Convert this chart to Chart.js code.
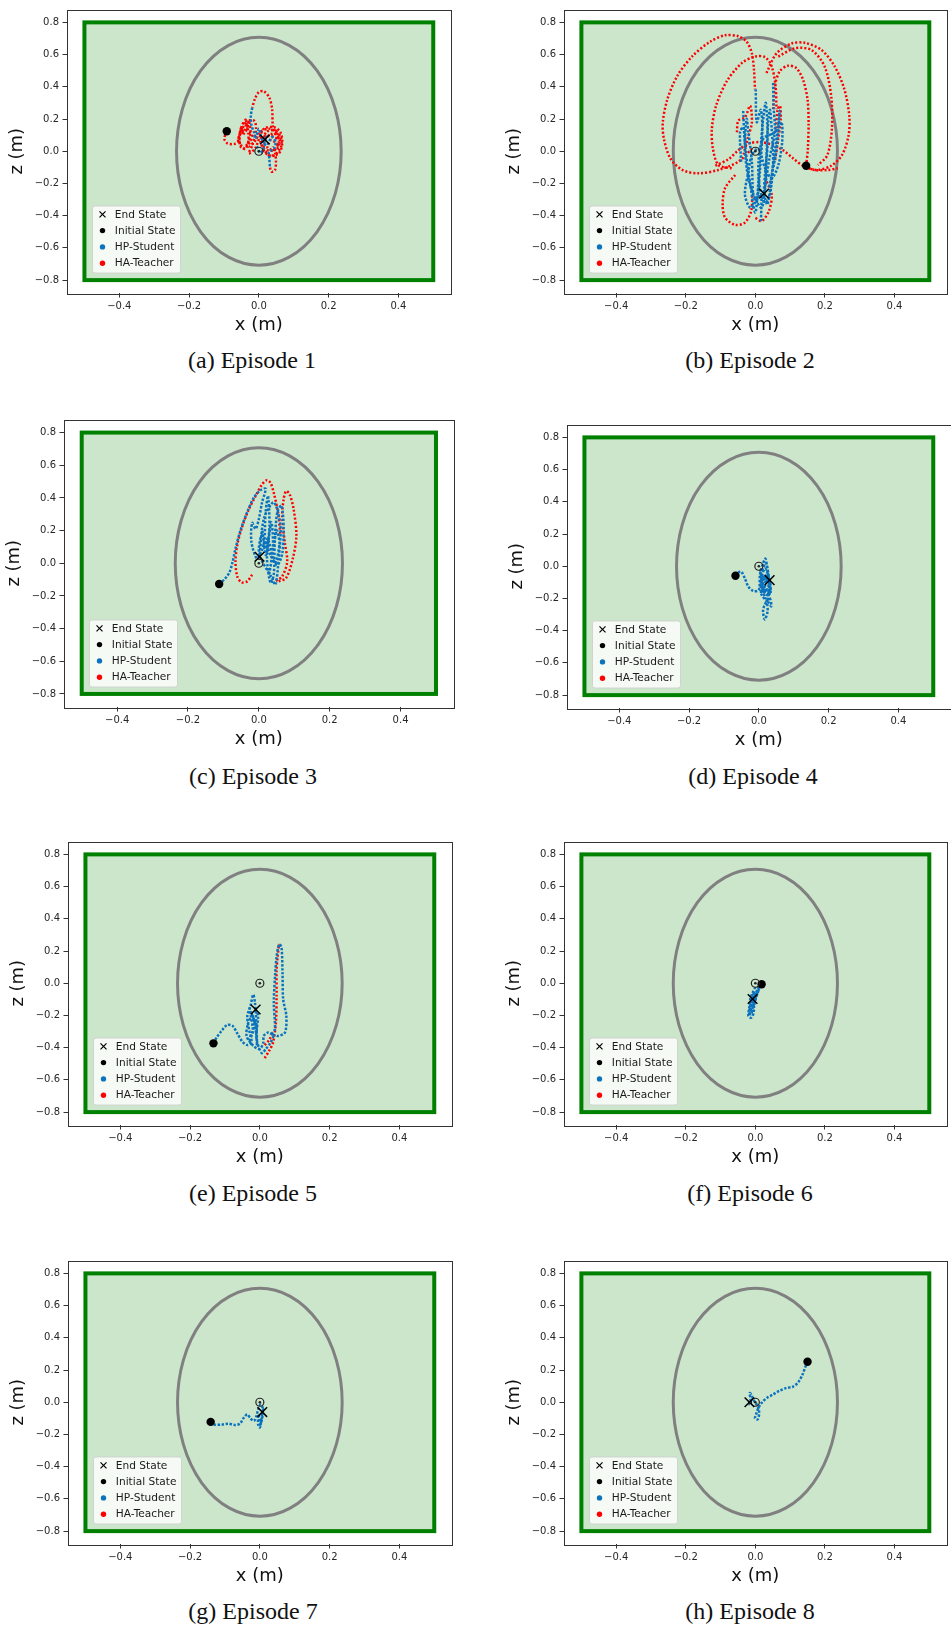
<!DOCTYPE html>
<html>
<head>
<meta charset="utf-8">
<script src="https://cdn.jsdelivr.net/npm/chart.js@4.4.1/dist/chart.umd.min.js"></script>
<style>
  html, body { margin: 0; padding: 0; background: #fff; overflow: hidden; }
  #page { position: relative; width: 951px; height: 1627px; overflow: hidden; }
  #page canvas { position: absolute; }
  .cap {
    position: absolute; transform: translate(-50%, -50%); white-space: nowrap;
    font-family: "Liberation Serif", "Times New Roman", serif; font-size: 24px; color: #111;
  }
</style>
</head>
<body>
<div id="page"></div>
<script>
// axes
const X_TICKS = [-0.4, -0.2, 0.0, 0.2, 0.4]
const Z_TICKS = [-0.8, -0.6, -0.4, -0.2, 0.0, 0.2, 0.4, 0.6, 0.8]
const X_LIMITS = [-0.55, 0.55]
const Z_LIMITS = [-0.88, 0.88]
// safety envelope: box [xmin, xmax, zmin, zmax] and ellipse semi-axes [x, z]
const SAFE_BOX = [-0.5, 0.5, -0.8, 0.8]
const SAFE_ELLIPSE = [0.236, 0.707]
const TARGET = [0, 0]
const LEGEND_LABELS = ["End State", "Initial State", "HP-Student", "HA-Teacher"]
const CAPTIONS = ["(a) Episode 1", "(b) Episode 2", "(c) Episode 3", "(d) Episode 4",
                  "(e) Episode 5", "(f) Episode 6", "(g) Episode 7", "(h) Episode 8"]

// episode 1
const EP1_INIT = [-0.092, 0.124]
const EP1_END = [0.017, 0.073]
const EP1_STUDENT = [
  [[-0.019,0.271],[-0.023,0.220],[-0.021,0.159],[-0.014,0.118],[-0.010,0.078],[0,0.139],[0.010,0.067],[0.024,0.047],[0.038,0.088],[0.048,0.057],[0.043,0.016],[0.029,-0.004],[0.030,-0.045],[0.032,-0.102]],
  [[-0.006,0.030],[0.004,-0.010],[0.014,0.020],[0.022,0.090],[0.017,0.073]]
]
const EP1_TEACHER = [
  [[-0.092,0.124],[-0.099,0.078],[-0.090,0.049],[-0.071,0.045],[-0.059,0.057],[-0.052,0.118],[-0.043,0.159],[-0.038,0.196],[-0.032,0.139],[-0.029,0.190],[-0.024,0.118],[-0.038,0.016],[-0.052,0.027],[-0.055,0.098],[-0.043,0.180],[-0.014,0.190],[-0.008,0.139],[-0.019,0.037],[-0.029,-0.014],[-0.011,0.016],[0.014,0.139],[0.043,0.149],[0.062,0.118],[0.067,0.047],[0.057,-0.014],[0.029,-0.024],[0.010,0.037],[0.021,0.118],[0.048,0.129],[0.057,0.057],[0.043,0.006],[0.014,0.016],[0.005,0.078],[0.029,0.098],[0.052,0.078]],
  [[0.052,0.078],[0.045,0.120],[0.040,0.159],[0.038,0.261],[0.030,0.333],[0.014,0.373],[0.000,0.367],[-0.011,0.327],[-0.019,0.271]],
  [[0.032,-0.102],[0.036,-0.127],[0.046,-0.118],[0.049,-0.065],[0.047,-0.014],[0.040,0.030]],
  [[-0.060,0.060],[-0.050,0.150],[-0.045,0.100],[-0.035,0.170],[-0.030,0.060],[-0.045,0.020],[-0.058,0.090],[-0.040,0.130],[-0.020,0.100],[-0.030,0.030],[-0.012,0.060],[0.005,0.120],[0.030,0.140],[0.060,0.100],[0.064,0.030],[0.040,-0.030],[0.015,0.000],[0.020,0.080],[0.045,0.110],[0.060,0.070],[0.050,0.010],[0.025,0.020],[0.035,0.070],[0.055,0.040]]
]

// episode 2
const EP2_INIT = [0.146, -0.090]
const EP2_END = [0.025, -0.263]
const EP2_STUDENT = [
  [[0.001,0.384],[0.004,0.180],[0.016,0.257],[0.020,0.118],[0.013,-0.127],[0.004,-0.310],[-0.006,-0.269],[-0.010,-0.065],[-0.020,0.118],[-0.025,0.200],[-0.030,0.016],[-0.020,-0.167],[-0.001,-0.290],[0.018,-0.351],[0.028,-0.229],[0.032,-0.024],[0.037,0.180],[0.042,0.257],[0.047,0.139],[0.051,-0.065],[0.042,-0.269],[0.028,-0.320],[0.013,-0.229],[0.009,-0.065],[0.023,0.078],[0.056,0.118],[0.075,0.180],[0.077,0.057],[0.066,-0.086],[0.047,-0.167],[0.028,-0.106],[0.009,0.016],[-0.010,-0.024],[-0.020,-0.127],[-0.030,-0.269],[-0.015,-0.351],[-0.001,-0.320],[0.016,-0.269],[0.016,-0.443]],
  [[0.051,0.424],[0.053,0.261],[0.056,0.118],[0.040,-0.050],[0.025,-0.263]],
  [[-0.041,-0.065],[-0.044,0.118],[-0.035,0.150],[-0.028,0.030]],
  [[-0.035,0.250],[-0.030,0.050],[-0.015,-0.200],[0.000,-0.380],[0.010,-0.150],[0.020,0.150],[0.030,0.300],[0.035,0.050],[0.025,-0.250],[0.035,-0.330],[0.050,-0.100],[0.065,0.150],[0.070,0.250],[0.060,0.000],[0.040,-0.220]]
]
const EP2_TEACHER = [
  [[-0.010,0.016],[-0.049,-0.065],[-0.106,-0.116],[-0.163,-0.137],[-0.210,-0.116],[-0.244,-0.045],[-0.263,0.078],[-0.266,0.180],[-0.253,0.322],[-0.225,0.465],[-0.182,0.588],[-0.130,0.680],[-0.087,0.720],[-0.049,0.714],[-0.025,0.680],[-0.010,0.608],[-0.004,0.506],[-0.001,0.384]],
  [[-0.068,-0.106],[-0.106,-0.086],[-0.122,0.016],[-0.125,0.139],[-0.113,0.282],[-0.082,0.435],[-0.039,0.547],[-0.001,0.588],[0.028,0.584],[0.047,0.527],[0.058,0.404],[0.061,0.261]],
  [[0.032,0.486],[0.061,0.608],[0.104,0.669],[0.142,0.673],[0.190,0.629],[0.228,0.527],[0.256,0.384],[0.270,0.220],[0.268,0.098],[0.249,-0.024],[0.218,-0.090],[0.180,-0.116],[0.151,-0.106]],
  [[0.066,0.588],[0.113,0.639],[0.161,0.629],[0.199,0.527],[0.218,0.343],[0.220,0.139],[0.207,-0.024],[0.180,-0.086]],
  [[0.146,-0.090],[0.151,0.016],[0.153,0.180],[0.150,0.322],[0.137,0.445],[0.118,0.516],[0.094,0.531],[0.070,0.496],[0.056,0.404],[0.051,0.261]],
  [[-0.115,-0.090],[-0.077,-0.049],[-0.049,0.006],[-0.020,0.047],[0.013,0.057],[0.047,0.041],[0.080,0.006],[0.109,-0.045],[0.137,-0.090],[0.170,-0.116],[0.209,-0.116],[0.237,-0.106]],
  [[-0.058,-0.147],[-0.087,-0.229],[-0.094,-0.331],[-0.087,-0.412],[-0.058,-0.457],[-0.030,-0.443],[-0.012,-0.371],[-0.009,-0.269]],
  [[0.028,-0.167],[0.047,-0.269],[0.039,-0.371],[0.018,-0.433],[-0.001,-0.412]],
  [[-0.053,0.118],[-0.049,0.190],[-0.030,0.210],[-0.015,0.282],[-0.010,0.180],[-0.022,0.078],[-0.034,-0.024]],
  [[0.058,0.118],[0.064,0.257],[0.071,0.282],[0.073,0.200],[0.066,0.078],[0.056,-0.065]]
]

// episode 3
const EP3_INIT = [-0.112, -0.127]
const EP3_END = [0.002, 0.040]
const EP3_STUDENT = [
  [[-0.112,-0.127],[-0.098,-0.100],[-0.084,-0.060],[-0.075,0.000],[-0.066,0.090],[-0.052,0.201],[-0.033,0.312],[-0.014,0.402],[0.005,0.448],[0.019,0.456],[0.009,0.372],[0.000,0.271],[-0.009,0.211],[-0.019,0.247],[-0.021,0.131],[-0.005,0.030],[0.014,0.121],[0.019,0.312],[0.026,0.412],[0.030,0.231],[0.023,0.030],[0.033,-0.121],[0.042,-0.070],[0.045,0.131],[0.052,0.312],[0.064,0.352],[0.070,0.211],[0.066,0.060],[0.052,-0.010],[0.033,0.050],[0.009,0.171],[0.000,0.090],[0.005,0.030],[0.037,-0.090],[0.047,-0.131],[0.056,0.030],[0.061,0.231],[0.042,0.372],[0.014,0.271],[0.002,0.040]],
  [[0.010,0.200],[0.020,0.050],[0.035,0.250],[0.040,0.100],[0.030,-0.060],[0.050,0.200],[0.058,0.120],[0.045,0.000],[0.025,0.150],[0.015,0.080]]
]
const EP3_TEACHER = [
  [[-0.019,-0.070],[-0.033,-0.111],[-0.049,-0.117],[-0.061,-0.080],[-0.066,0.010],[-0.061,0.111],[-0.049,0.211],[-0.030,0.322],[-0.009,0.412],[0.009,0.482],[0.023,0.509],[0.033,0.492],[0.042,0.432],[0.054,0.312],[0.061,0.171]],
  [[0.056,-0.111],[0.077,-0.090],[0.096,0.030],[0.106,0.171],[0.098,0.332],[0.087,0.422],[0.077,0.442],[0.070,0.392],[0.066,0.291],[0.073,0.131],[0.080,0.010],[0.066,-0.080],[0.047,-0.111]]
]

// episode 4
const EP4_INIT = [-0.067, -0.059]
const EP4_END = [0.031, -0.086]
const EP4_STUDENT = [
  [[-0.067,-0.059],[-0.059,-0.039],[-0.050,-0.035],[-0.040,-0.076],[-0.030,-0.127],[-0.016,-0.153],[0.000,-0.147],[0.003,-0.055],[0.010,0.006],[0.019,0.047],[0.025,-0.035],[0.031,-0.137],[0.027,-0.219],[0.036,-0.249],[0.031,-0.198],[0.017,-0.239],[0.012,-0.280],[0.017,-0.331],[0.025,-0.280],[0.022,-0.219],[0.008,-0.178],[0.006,-0.096],[0.017,-0.014],[0.029,-0.072],[0.034,-0.153],[0.022,-0.178],[0.010,-0.137],[0.012,-0.055],[0.027,-0.096],[0.031,-0.086]],
  [[0.004,-0.020],[0.014,-0.160],[0.022,-0.060],[0.030,-0.180],[0.016,-0.120],[0.005,-0.170]],
  [[0.005,-0.050],[0.020,0.020],[0.030,-0.120],[0.020,-0.200],[0.010,-0.100],[0.025,-0.050],[0.033,-0.170],[0.018,-0.150],[0.008,-0.060],[0.022,-0.110]]
]
const EP4_TEACHER = []

// episode 5
const EP5_INIT = [-0.133, -0.373]
const EP5_END = [-0.012, -0.163]
const EP5_STUDENT = [
  [[-0.133,-0.373],[-0.124,-0.337],[-0.110,-0.296],[-0.094,-0.259],[-0.078,-0.265],[-0.065,-0.310],[-0.050,-0.363],[-0.036,-0.384],[-0.024,-0.367],[-0.031,-0.286],[-0.036,-0.204],[-0.027,-0.143],[-0.019,-0.071],[-0.014,-0.122],[-0.010,-0.245],[-0.008,-0.388],[-0.011,-0.306],[-0.021,-0.204],[-0.033,-0.245],[-0.038,-0.327],[-0.019,-0.388],[0.000,-0.408],[0.010,-0.367],[0.011,-0.327],[0.024,-0.306],[0.038,-0.327],[0.031,-0.367],[0.017,-0.408],[0.005,-0.433],[-0.010,-0.337],[-0.005,-0.204],[-0.012,-0.163]],
  [[0.033,-0.316],[0.043,-0.286],[0.040,-0.122],[0.044,0.061],[0.048,0.163],[0.055,0.241],[0.062,0.224],[0.065,0.061],[0.067,-0.102],[0.076,-0.204],[0.072,-0.306],[0.052,-0.327],[0.033,-0.316]],
  [[-0.030,-0.150],[-0.020,-0.300],[-0.030,-0.350],[-0.015,-0.250],[-0.025,-0.180],[-0.008,-0.280]]
]
const EP5_TEACHER = [
  [[0.014,-0.465],[0.027,-0.418],[0.038,-0.367],[0.046,-0.245],[0.048,-0.082],[0.048,0.082],[0.051,0.163],[0.055,0.245]],
  [[0.014,-0.384],[0.027,-0.351],[0.036,-0.306]]
]

// episode 6
const EP6_INIT = [0.018, -0.006]
const EP6_END = [-0.008, -0.098]
const EP6_STUDENT = [
  [[0.016,-0.010],[0.007,-0.041],[-0.001,-0.031],[-0.008,-0.061],[-0.014,-0.092],[-0.017,-0.143],[-0.020,-0.204],[-0.012,-0.214],[-0.005,-0.184],[-0.003,-0.122],[0.005,-0.071],[0.011,-0.031],[0.002,-0.082],[-0.008,-0.153],[-0.012,-0.194],[-0.016,-0.163],[-0.010,-0.102],[-0.003,-0.051],[-0.008,-0.098]],
  [[0.010,-0.020],[-0.010,-0.120],[-0.018,-0.190],[-0.006,-0.150],[0.004,-0.060],[-0.006,-0.110],[-0.014,-0.170]]
]
const EP6_TEACHER = []

// episode 7
const EP7_INIT = [-0.141, -0.122]
const EP7_END = [0.007, -0.061]
const EP7_STUDENT = [
  [[-0.141,-0.122],[-0.134,-0.137],[-0.110,-0.139],[-0.091,-0.133],[-0.072,-0.141],[-0.057,-0.133],[-0.046,-0.096],[-0.036,-0.076],[-0.027,-0.100],[-0.017,-0.116],[-0.010,-0.086],[-0.005,-0.045],[0.002,-0.014],[0.008,-0.035],[0.005,-0.096],[0.000,-0.157],[-0.005,-0.137],[-0.004,-0.076],[0.002,-0.137],[0.006,-0.106],[0.010,-0.045],[0.007,-0.061]]
]
const EP7_TEACHER = []

// episode 8
const EP8_INIT = [0.150, 0.251]
const EP8_END = [-0.017, 0.000]
const EP8_STUDENT = [
  [[0.150,0.251],[0.145,0.227],[0.135,0.169],[0.123,0.124],[0.107,0.096],[0.088,0.088],[0.069,0.071],[0.050,0.047],[0.033,0.027],[0.018,-0.004],[0.009,-0.035],[0.002,-0.076],[-0.001,-0.100],[0.007,-0.106],[0.011,-0.065],[0.007,-0.025],[-0.003,0.006],[-0.012,0.047],[-0.016,0.057],[-0.014,0.006],[-0.020,-0.014],[-0.017,0.000]]
]
const EP8_TEACHER = []

const EPISODES = [
  {init: EP1_INIT, end: EP1_END, student: EP1_STUDENT, teacher: EP1_TEACHER},
  {init: EP2_INIT, end: EP2_END, student: EP2_STUDENT, teacher: EP2_TEACHER},
  {init: EP3_INIT, end: EP3_END, student: EP3_STUDENT, teacher: EP3_TEACHER},
  {init: EP4_INIT, end: EP4_END, student: EP4_STUDENT, teacher: EP4_TEACHER},
  {init: EP5_INIT, end: EP5_END, student: EP5_STUDENT, teacher: EP5_TEACHER},
  {init: EP6_INIT, end: EP6_END, student: EP6_STUDENT, teacher: EP6_TEACHER},
  {init: EP7_INIT, end: EP7_END, student: EP7_STUDENT, teacher: EP7_TEACHER},
  {init: EP8_INIT, end: EP8_END, student: EP8_STUDENT, teacher: EP8_TEACHER},
]

// page layout: axes box of each panel and caption centre, in page pixels
const PANELS = [
  {left: 67, top: 6, w: 386, h: 287, capX: 252, capY: 360},
  {left: 564, top: 6, w: 385, h: 287, capX: 750, capY: 360},
  {left: 64, top: 416, w: 392, h: 291, capX: 253, capY: 776},
  {left: 567, top: 421, w: 386, h: 287, capX: 753, capY: 776},
  {left: 68, top: 838, w: 386, h: 287, capX: 253, capY: 1193},
  {left: 564, top: 838, w: 385, h: 287, capX: 750, capY: 1193},
  {left: 68, top: 1257, w: 386, h: 287, capX: 253, capY: 1611},
  {left: 564, top: 1257, w: 385, h: 287, capX: 750, capY: 1611},
]
const PAD_L = 67, PAD_T = 6, PAD_R = 6, PAD_B = 46

const BLUE = "#0b72bd"
const RED = "#ff0000"
const FONT = "'DejaVu Sans', Verdana, sans-serif"

function fmtTick(v) {
  if (Math.abs(v) < 1e-9) return "0.0"
  return (v < 0 ? "\u2212" : "") + Math.abs(v).toFixed(1)
}

function toPts(line) {
  return line.map(p => ({x: p[0], y: p[1]}))
}

function trail(line, color, dash) {
  return {
    data: toPts(line),
    showLine: true,
    borderColor: color,
    borderWidth: 2.5,
    borderDash: dash,
    tension: 0.3,
    pointRadius: 0,
    fill: false,
    order: 5
  }
}

function drawLegend(chart) {
  const {ctx, chartArea: a} = chart
  const bw = 88, bh = 67
  const bx = a.left + 25.5, by = a.bottom - 20 - bh
  ctx.save()
  ctx.beginPath()
  ctx.roundRect(bx, by, bw, bh, 2.5)
  ctx.fillStyle = "rgba(255,255,255,0.8)"
  ctx.fill()
  ctx.strokeStyle = "rgba(204,204,204,0.8)"
  ctx.lineWidth = 1
  ctx.stroke()
  ctx.font = "10.6px " + FONT
  ctx.textBaseline = "middle"
  const colors = ["#000", "#000", BLUE, RED]
  LEGEND_LABELS.forEach((label, k) => {
    const cy = by + 8.3 + k * 16.3
    const mx = bx + 10
    if (k === 0) {
      ctx.strokeStyle = "#000"
      ctx.lineWidth = 1.2
      ctx.beginPath()
      ctx.moveTo(mx - 3, cy - 3); ctx.lineTo(mx + 3, cy + 3)
      ctx.moveTo(mx - 3, cy + 3); ctx.lineTo(mx + 3, cy - 3)
      ctx.stroke()
    } else {
      ctx.fillStyle = colors[k]
      ctx.beginPath()
      ctx.arc(mx, cy, 2.7, 0, Math.PI * 2)
      ctx.fill()
    }
    ctx.fillStyle = "#1a1a1a"
    ctx.fillText(label, bx + 22.3, cy + 0.5)
  })
  ctx.restore()
}

const panelPlugin = {
  id: "panel",
  beforeDatasetsDraw(chart) {
    const {ctx, scales: {x, y}} = chart
    ctx.save()
    const l = x.getPixelForValue(SAFE_BOX[0]), r = x.getPixelForValue(SAFE_BOX[1])
    const t = y.getPixelForValue(SAFE_BOX[3]), b = y.getPixelForValue(SAFE_BOX[2])
    ctx.fillStyle = "rgba(0,128,0,0.2)"
    ctx.fillRect(l, t, r - l, b - t)
    ctx.strokeStyle = "#008000"
    ctx.lineWidth = 4
    ctx.strokeRect(l, t, r - l, b - t)
    const cx = x.getPixelForValue(0), cy = y.getPixelForValue(0)
    const rx = x.getPixelForValue(SAFE_ELLIPSE[0]) - cx
    const ry = cy - y.getPixelForValue(SAFE_ELLIPSE[1])
    ctx.beginPath()
    ctx.ellipse(cx, cy, rx, ry, 0, 0, Math.PI * 2)
    ctx.strokeStyle = "#808080"
    ctx.lineWidth = 3
    ctx.stroke()
    ctx.restore()
  },
  afterDatasetsDraw(chart) {
    drawLegend(chart)
  },
  afterDraw(chart) {
    const {ctx, chartArea: a} = chart
    ctx.save()
    ctx.strokeStyle = "#333"
    ctx.lineWidth = 1
    ctx.strokeRect(Math.round(a.left) + 0.5, Math.round(a.top) + 0.5,
                   Math.round(a.right - a.left), Math.round(a.bottom - a.top))
    ctx.restore()
  }
}

const page = document.getElementById("page")

function makePanel(i) {
  const ep = EPISODES[i], box = PANELS[i]
  const cw = box.w + PAD_L + PAD_R, ch = box.h + PAD_T + PAD_B
  const canvas = document.createElement("canvas")
  canvas.width = cw
  canvas.height = ch
  canvas.style.width = cw + "px"
  canvas.style.height = ch + "px"
  canvas.style.left = (box.left - PAD_L) + "px"
  canvas.style.top = (box.top - PAD_T) + "px"
  page.appendChild(canvas)

  const datasets = [
    {label: LEGEND_LABELS[0], data: toPts([ep.end]), pointStyle: "crossRot", pointRadius: 6.8,
     borderColor: "#000", borderWidth: 1.5, showLine: false, order: 0},
    {data: toPts([TARGET]), pointStyle: "circle", pointRadius: 4, backgroundColor: "rgba(0,0,0,0)",
     borderColor: "#222", borderWidth: 1.2, showLine: false, order: 1},
    {data: toPts([TARGET]), pointStyle: "circle", pointRadius: 1.3, backgroundColor: "#222",
     borderWidth: 0, showLine: false, order: 1},
    {label: LEGEND_LABELS[1], data: toPts([ep.init]), pointStyle: "circle", pointRadius: 4.2,
     backgroundColor: "#000", borderWidth: 0, showLine: false, order: 2},
  ]
  ep.student.forEach(line => datasets.push(Object.assign(trail(line, BLUE, [2.4, 1.6]), {order: 3})))
  ep.teacher.forEach(line => datasets.push(trail(line, RED, [2, 2])))

  const tickFont = {family: FONT, size: 10}
  const titleFont = {family: FONT, size: 18, lineHeight: 1.2}

  new Chart(canvas, {
    type: "scatter",
    data: {datasets},
    options: {
      responsive: false,
      animation: false,
      events: [],
      layout: {padding: {left: 0, top: PAD_T, right: PAD_R, bottom: 0}},
      plugins: {legend: {display: false}, tooltip: {enabled: false}},
      elements: {line: {borderCapStyle: "butt"}},
      scales: {
        x: {
          type: "linear", min: X_LIMITS[0], max: X_LIMITS[1],
          afterBuildTicks: s => { s.ticks = X_TICKS.map(v => ({value: v})) },
          afterFit: s => { s.height = PAD_B },
          ticks: {font: tickFont, color: "#262626", padding: 3, maxRotation: 0, autoSkip: false, callback: fmtTick},
          grid: {drawOnChartArea: false, drawTicks: true, tickLength: 4.5, color: "#333"},
          border: {display: false},
          title: {display: true, text: "x (m)", font: titleFont, color: "#111", padding: {top: 0, bottom: 3}}
        },
        y: {
          type: "linear", min: Z_LIMITS[0], max: Z_LIMITS[1],
          afterBuildTicks: s => { s.ticks = Z_TICKS.map(v => ({value: v})) },
          afterFit: s => { s.width = PAD_L },
          ticks: {font: tickFont, color: "#262626", padding: 3.5, autoSkip: false, callback: fmtTick},
          grid: {drawOnChartArea: false, drawTicks: true, tickLength: 4.5, color: "#333"},
          border: {display: false},
          title: {display: true, text: "z (m)", font: titleFont, color: "#111", padding: {top: 7, bottom: 7}}
        }
      }
    },
    plugins: [panelPlugin]
  })

  const cap = document.createElement("div")
  cap.className = "cap"
  cap.textContent = CAPTIONS[i]
  cap.style.left = box.capX + "px"
  cap.style.top = box.capY + "px"
  page.appendChild(cap)
}

for (let i = 0; i < EPISODES.length; i++) makePanel(i)
</script>
</body>
</html>
